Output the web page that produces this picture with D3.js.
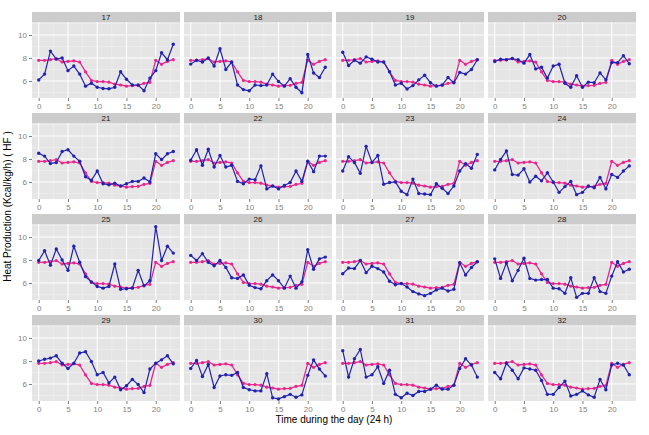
<!DOCTYPE html>
<html><head><meta charset="utf-8">
<script src="https://cdn.jsdelivr.net/npm/d3@7"></script>
<style>body{margin:0;background:#fff}svg{display:block}</style>
</head><body><svg id="c" width="649" height="435" font-family="Liberation Sans, Arial, Helvetica, sans-serif"></svg>
<script>
const hours = d3.range(0, 24);
const panelIds = [17,18,19,20,21,22,23,24,25,26,27,28,29,30,31,32];
const xTicks = [0,5,10,15,20];
const yTicks = [6,8,10];
const predicted = [7.8,7.8,7.85,7.95,7.65,7.7,7.75,7.65,6.8,6.05,5.95,5.95,5.9,5.72,5.65,5.55,5.6,5.62,5.8,5.88,7.8,7.45,7.7,7.85];
const obs17 = [6.09,6.6,8.6,7.9,8.0,6.9,7.3,6.6,5.55,5.8,5.45,5.35,5.32,5.45,6.8,6.15,5.65,5.65,5.15,6.25,6.9,8.45,7.85,9.2];
const obs18 = [7.47,7.8,7.65,8.0,7.3,8.8,7.0,7.65,5.65,5.25,5.15,5.65,5.6,5.65,6.6,5.95,5.55,6.2,5.45,4.98,8.3,6.7,6.3,7.2];
const obs19 = [8.5,7.35,7.8,7.55,8.1,7.9,7.65,7.65,6.8,5.65,5.8,5.3,5.6,6.1,6.5,5.85,5.55,5.65,6.3,5.85,6.75,6.6,7.0,7.85];
const obs20 = [7.7,7.9,7.85,7.95,7.85,7.55,8.3,7.05,7.2,6.25,7.3,7.45,5.8,5.45,6.45,5.45,5.9,5.85,6.7,6.1,7.6,7.6,8.2,7.5];
const obs21 = [8.5,8.25,7.6,7.7,8.65,8.8,8.25,7.8,6.45,6.15,6.95,5.85,5.75,5.9,5.65,5.85,6.05,6.05,6.35,6.0,8.45,7.95,8.45,8.65];
const obs22 = [7.9,8.8,7.45,8.85,7.3,8.3,7.3,7.45,6.05,5.85,6.25,6.2,7.4,5.4,5.65,5.4,5.7,5.95,6.95,6.05,7.8,6.9,8.25,8.25];
const obs23 = [6.95,8.2,7.7,6.75,9.1,7.7,8.3,5.8,5.95,6.0,5.2,4.9,6.25,5.0,4.95,4.9,5.85,5.45,5.0,5.65,6.95,7.6,7.2,8.4];
const obs24 = [7.05,7.95,8.7,6.65,6.6,7.15,6.0,6.5,6.1,6.8,6.0,5.1,5.6,6.05,4.9,5.1,5.65,5.5,6.4,5.4,6.65,6.4,6.95,7.4];
const obs25 = [7.95,8.8,7.55,8.95,8.0,7.1,9.2,7.8,6.55,6.1,5.7,5.55,5.7,7.65,5.45,5.5,5.55,7.1,5.75,6.2,10.9,7.95,9.2,8.6];
const obs26 = [8.4,7.95,8.55,7.8,7.5,7.95,7.35,6.45,6.4,6.7,5.8,5.6,5.5,6.2,6.7,6.2,5.55,6.6,5.55,6.1,8.9,7.2,8.1,8.25];
const obs27 = [6.8,7.3,7.25,7.95,6.9,7.45,7.25,6.95,6.15,5.85,5.95,5.65,5.25,5.05,4.9,5.1,5.4,5.55,5.3,5.45,7.75,6.7,7.35,7.85];
const obs28 = [8.1,6.4,7.75,6.2,7.1,8.15,6.4,6.25,6.3,6.3,5.55,5.5,5.1,6.45,4.75,5.1,5.1,6.45,5.25,5.1,6.6,7.85,6.95,7.2];
const obs29 = [8.0,8.15,8.25,8.45,7.8,7.35,7.8,8.7,8.8,7.95,6.8,7.0,6.1,6.6,5.5,5.85,6.4,5.95,5.25,7.3,7.8,8.1,8.45,7.75];
const obs30 = [7.35,8.05,6.65,7.7,5.7,6.7,6.8,6.75,7.0,5.7,5.5,5.4,5.4,6.9,4.8,4.7,4.9,5.1,4.85,5.05,6.75,8.1,7.3,6.7];
const obs31 = [8.9,6.6,8.2,9.0,6.6,6.8,7.5,6.05,7.2,5.1,4.8,5.2,5.0,5.35,5.35,5.55,5.9,5.55,5.55,5.9,7.35,8.2,7.65,6.6];
const obs32 = [7.0,6.45,7.8,7.2,6.45,7.4,7.3,7.2,6.3,5.1,5.1,5.7,6.25,4.95,5.1,5.4,5.05,4.85,6.4,5.5,7.65,7.8,7.65,6.8];
const observed = [obs17,obs18,obs19,obs20,obs21,obs22,obs23,obs24,obs25,obs26,obs27,obs28,obs29,obs30,obs31,obs32];

const FONT = "Liberation Sans, Arial, Helvetica, sans-serif";
const svg = d3.select("#c");
const left = 32, pw = 148, gapX = 4;
const top0 = 12, stripH = 10, ph = 76, rowStep = 101;
const blue = "#2222b0", pink = "#e8268e";

const x = d3.scaleLinear().domain([-1.15, 24.15]).range([0, pw]);
const y = d3.scaleLinear().domain([4.52, 11.13]).range([ph, 0]);

panelIds.forEach((id, k) => {
  const c = k % 4, r = Math.floor(k / 4);
  const px = left + c * (pw + gapX);
  const sy = top0 + r * rowStep;
  const g = svg.append("g").attr("transform", `translate(${px},${sy})`);
  g.append("rect").attr("width", pw).attr("height", stripH).attr("fill", "#cccccc");
  g.append("text").attr("x", pw/2).attr("y", stripH/2 + 3).attr("text-anchor", "middle")
    .attr("font-family", FONT).attr("font-size", 8).attr("fill", "#1a1a1a").text(id);
  const p = g.append("g").attr("transform", `translate(0,${stripH})`);
  p.append("rect").attr("width", pw).attr("height", ph).attr("fill", "#e5e5e5");
  const xMinor = [2.5,7.5,12.5,17.5,22.5];
  const yMinor = [5,7,9,11];
  p.selectAll(".xm").data(xMinor).join("line").attr("x1", d=>x(d)).attr("x2", d=>x(d))
    .attr("y1", 0).attr("y2", ph).attr("stroke", "#f2f2f2").attr("stroke-width", 0.5);
  p.selectAll(".ym").data(yMinor).join("line").attr("y1", d=>y(d)).attr("y2", d=>y(d))
    .attr("x1", 0).attr("x2", pw).attr("stroke", "#f2f2f2").attr("stroke-width", 0.5);
  p.selectAll(".xg").data(xTicks).join("line").attr("x1", d=>x(d)).attr("x2", d=>x(d))
    .attr("y1", 0).attr("y2", ph).attr("stroke", "#fff").attr("stroke-width", 1);
  p.selectAll(".yg").data(yTicks).join("line").attr("y1", d=>y(d)).attr("y2", d=>y(d))
    .attr("x1", 0).attr("x2", pw).attr("stroke", "#fff").attr("stroke-width", 1);
  const xa = p.append("g").attr("transform", `translate(0,${ph})`)
    .call(d3.axisBottom(x).tickValues(xTicks).tickFormat(d3.format("d")).tickSize(3).tickPadding(2));
  xa.attr("font-family", FONT);
  xa.select(".domain").remove();
  xa.selectAll("line").attr("stroke", "#7f7f7f");
  xa.selectAll("text").attr("fill", "#7f7f7f").attr("font-size", 8);
  if (c === 0) {
    const ya = p.append("g").call(d3.axisLeft(y).tickValues(yTicks).tickFormat(d3.format("d")).tickSize(3).tickPadding(2));
    ya.attr("font-family", FONT);
    ya.select(".domain").remove();
    ya.selectAll("line").attr("stroke", "#7f7f7f");
    ya.selectAll("text").attr("fill", "#7f7f7f").attr("font-size", 8);
  }
  const line = d3.line().x((d,i)=>x(hours[i])).y(d=>y(d));
  const obs = observed[k];
  p.append("path").attr("d", line(predicted)).attr("fill", "none").attr("stroke", pink).attr("stroke-width", 1.3);
  p.selectAll(".pp").data(predicted).join("circle").attr("cx", (d,i)=>x(hours[i])).attr("cy", d=>y(d))
    .attr("r", 1.6).attr("fill", pink);
  p.append("path").attr("d", line(obs)).attr("fill", "none").attr("stroke", blue).attr("stroke-width", 1.2);
  p.selectAll(".op").data(obs).join("circle").attr("cx", (d,i)=>x(hours[i])).attr("cy", d=>y(d))
    .attr("r", 1.7).attr("fill", blue);
});

svg.append("text").attr("x", left + (4*pw + 3*gapX)/2).attr("y", 423).attr("text-anchor", "middle")
  .attr("font-family", FONT).attr("font-size", 10).attr("fill", "#000").text("Time during the day (24 h)");
svg.append("text").attr("transform", `translate(11,${(top0 + top0 + 3*rowStep + stripH + ph)/2}) rotate(-90)`)
  .attr("font-family", FONT).attr("text-anchor", "middle").attr("font-size", 10).attr("fill", "#000").text("Heat Production (Kcal/kg/h) ( HF )");
</script></body></html>
